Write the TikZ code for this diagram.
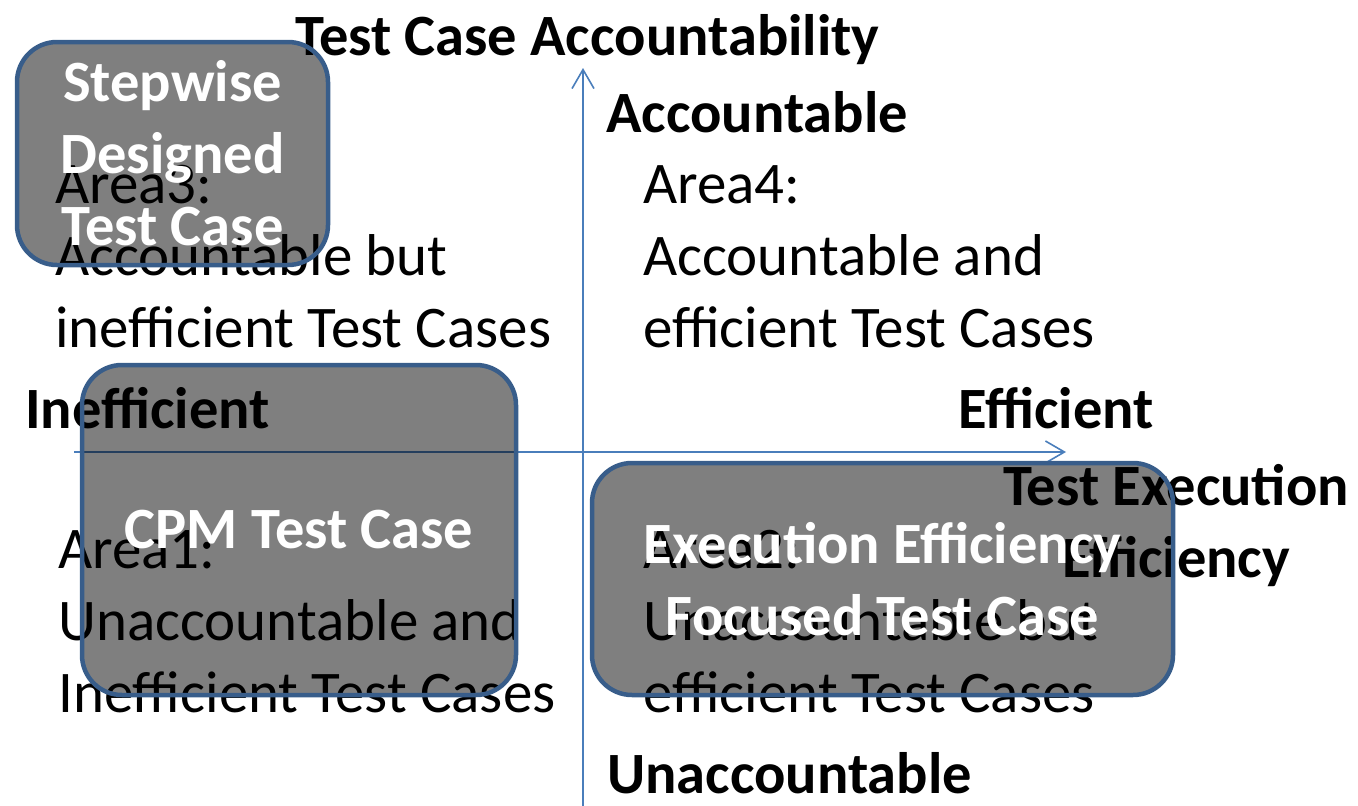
\documentclass[tikz,border=0pt]{standalone}
\usepackage{fontspec}
\setmainfont{Carlito}
\usetikzlibrary{arrows.meta,positioning}
\definecolor{axisblue}{HTML}{4A7EBB}
\definecolor{boxblue}{HTML}{385D8A}
\tikzset{>={Straight Barb[length=19pt,width=22pt]}}
\tikzset{
  areatext/.style={font=\fontsize{59}{72}\selectfont, align=left, inner sep=0pt, anchor=base west},
  axislabel/.style={font=\fontsize{58.5}{72}\selectfont\bfseries, inner sep=0pt, anchor=base west},
  axisline/.style={draw=axisblue, line width=1.6pt},
  casebox/.style={draw=boxblue, line width=4.5pt, fill=black, fill opacity=0.5, text opacity=1,
    text=white, rounded corners=40pt, inner sep=0pt, align=center,
    font=\fontsize{58.5}{72}\selectfont\bfseries},
}

\begin{document}
\begin{tikzpicture}[x=1pt,y=-1pt]
    \useasboundingbox (0,0) rectangle (1358,806);

    % the four areas (base = last line)
    \node [areatext] (area3) at (55,347) {Area3:\\Accountable but\\inefficient Test Cases};
    \node [areatext] (area4) at (643,347) {Area4:\\Accountable and\\efficient Test Cases};
    \node [areatext] (area1) at (58,712) {Area1:\\Unaccountable and\\Inefficient Test Cases};
    \node [areatext] (area2) at (643,712) {Area2:\\Unaccountable but\\efficient Test Cases};

    % axis labels
    \node [axislabel] (ytitle) at (295,55) {Test Case Accountability};
    \node [axislabel] (ytop) at (606,132) {Accountable};
    \node [axislabel] (ybottom) at (607,793) {Unaccountable};
    \node [axislabel] (xleft) at (25,428) {Inefficient};
    \node [axislabel] (xright) at (958,428) {Efficient};
    \node [axislabel, align=center, anchor=base] (xtitle) at (1176,577) {Test Execution\\Efficiency};

    % axes
    \coordinate (xstart) at (74,452);
    \coordinate (xend) at (1066,452);
    \coordinate (ystart) at (583,806);
    \coordinate (yend) at (583,68);
    \draw [axisline,->] (xstart) -- (xend);
    \draw [axisline,->] (ystart) -- (yend);

    % test case kinds
    \node [casebox, minimum width=311pt, minimum height=223pt] (stepwise) at (172.5,153.5) {Stepwise\\Designed\\Test Case};
    \node [casebox, minimum width=434pt, minimum height=330pt] (cpm) at (299,530) {CPM Test Case};
    \node [casebox, minimum width=581pt, minimum height=232pt] (execfocus) at (882.5,579) {Execution Efficiency\\Focused Test Case};
\end{tikzpicture}
\end{document}
